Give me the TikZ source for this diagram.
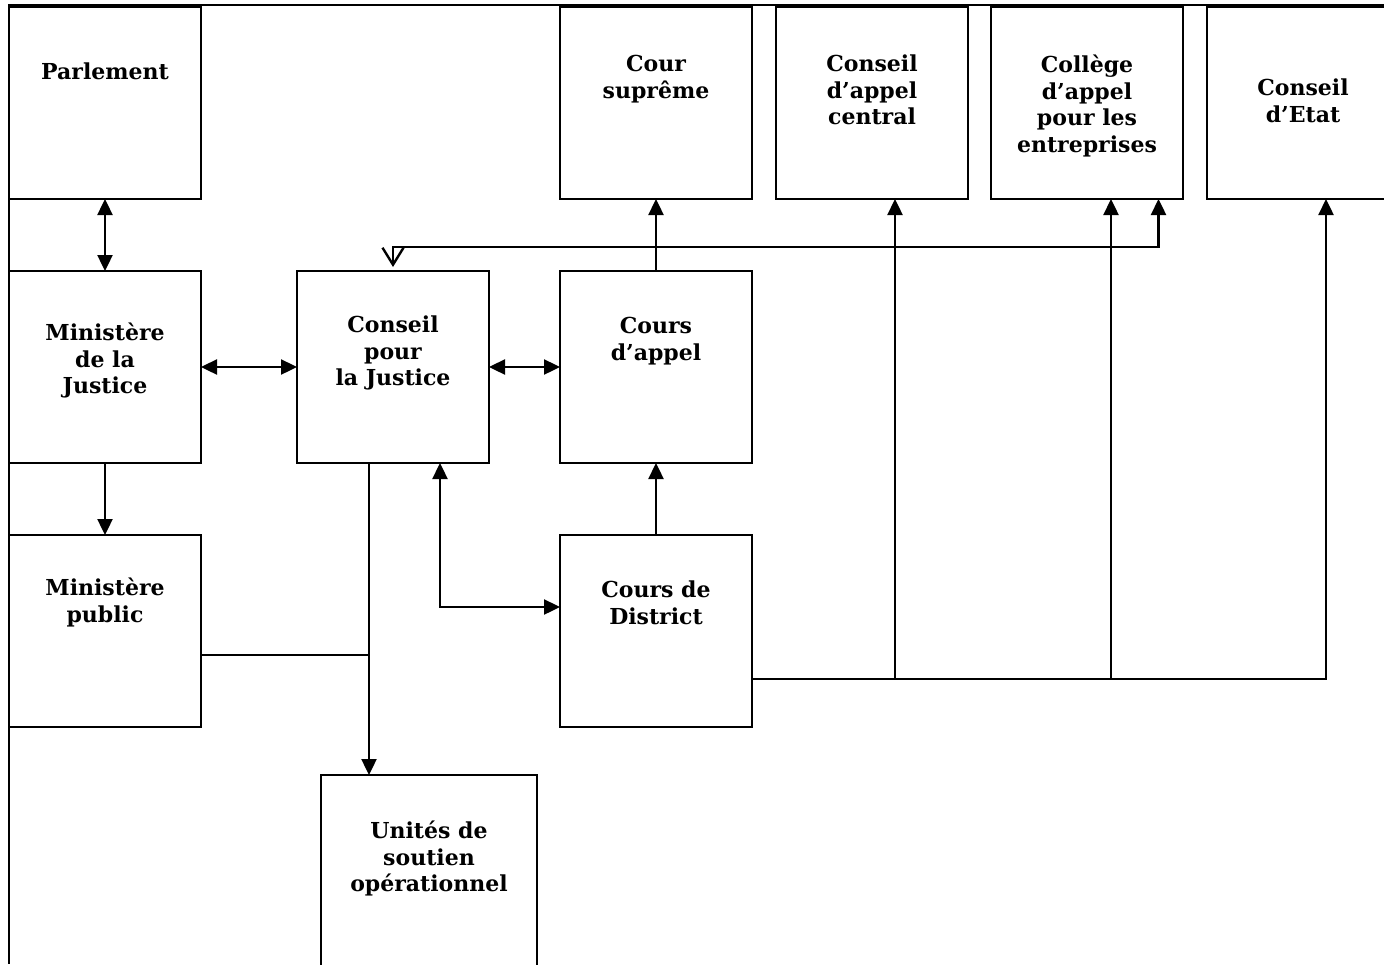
\documentclass[tikz,border=0pt]{standalone}
\usepackage{fontspec}
\setmainfont{DejaVu Serif}
\usetikzlibrary{arrows.meta}
\tikzset{
  box/.style={draw, minimum width=192pt, minimum height=192pt, inner sep=0pt, outer sep=0pt},
  lbl/.style={anchor=north, yshift=-#1, align=center, inner sep=0pt,
    font=\bfseries\fontsize{22}{26.5}\selectfont, execute at begin node=\rule{0pt}{18pt}},
  link/.style={-{Triangle[length=16pt,width=15pt]}},
  both/.style={{Triangle[length=16pt,width=15pt]}-{Triangle[length=16pt,width=15pt]}},
}
\begin{document}
\begin{tikzpicture}[x=1pt, y=-1pt, line width=2.4pt]
                \useasboundingbox (0,0) rectangle (1384,964);
                \clip (0,0) rectangle (1384,964);
                %% frame
                \draw (1384,5) -- (9,5) -- (9,964);
                %% left column
                \node[box, label={[lbl=53pt]north:Parlement}] (parl) at (105,103) {};
                \node[box, label={[lbl=51pt]north:{Ministère\\de la\\Justice}}] (minj) at (105,367) {};
                \node[box, label={[lbl=42pt]north:{Ministère\\public}}] (minp) at (105,631) {};
                %% middle
                \node[box, label={[lbl=44pt]north:{Conseil\\pour\\la Justice}}] (cpj) at (393,367) {};
                \node[box, minimum width=216pt, label={[lbl=45pt]north:{Unités de\\soutien\\opérationnel}}] (unit) at (429,871) {};
                %% courts
                \node[box, label={[lbl=47pt]north:{Cour\\suprême}}] (cs) at (656,103) {};
                \node[box, label={[lbl=45pt]north:{Cours\\d’appel}}] (ca) at (656,367) {};
                \node[box, label={[lbl=45pt]north:{Cours de\\District}}] (cd) at (656,631) {};
                %% top row right
                \node[box, label={[lbl=47pt]north:{Conseil\\d’appel\\central}}] (cac) at (872,103) {};
                \node[box, label={[lbl=47pt]north:{Collège\\d’appel\\pour les\\entreprises}}] (coll) at (1087,103) {};
                \node[box, label={[lbl=71pt]north:{Conseil\\d’Etat}}] (ce) at (1303,103) {};
                %% links
                \draw[both] (parl.south) -- (minj.north);
                \draw[both] (minj.east) -- (cpj.west);
                \draw[both] (cpj.east) -- (ca.west);
                \draw[link] (minj.south) -- (minp.north);
                \draw[link] (ca.north) -- (cs.south);
                \draw[link] (cd.north) -- (ca.south);
                \draw[both] ([xshift=47pt]cpj.south) |- ([yshift=24pt]cd.west);
                \draw[link] ([xshift=-24pt]cpj.south) -- ([xshift=-60pt]unit.north);
                \draw ([yshift=-24pt]minp.east) -- ++(168,0);
                \draw[{Straight Barb[length=17pt,width=21pt]}-{Triangle[length=16pt,width=15pt]}, shorten <=4pt]
                    (cpj.north) -- ++(0,-24) -| ([xshift=71.5pt]coll.south);
                %% district to the appeal bodies
                \coordinate (bus) at ([yshift=-48pt]cd.east);
                \coordinate (cacin) at ([xshift=23pt]cac.south);
                \coordinate (collin) at ([xshift=24pt]coll.south);
                \draw[link] (bus) -| ([xshift=23pt]ce.south);
                \foreach \n in {cacin,collin}
                    \draw[link] (bus -| \n) -- (\n);
\end{tikzpicture}
\end{document}
